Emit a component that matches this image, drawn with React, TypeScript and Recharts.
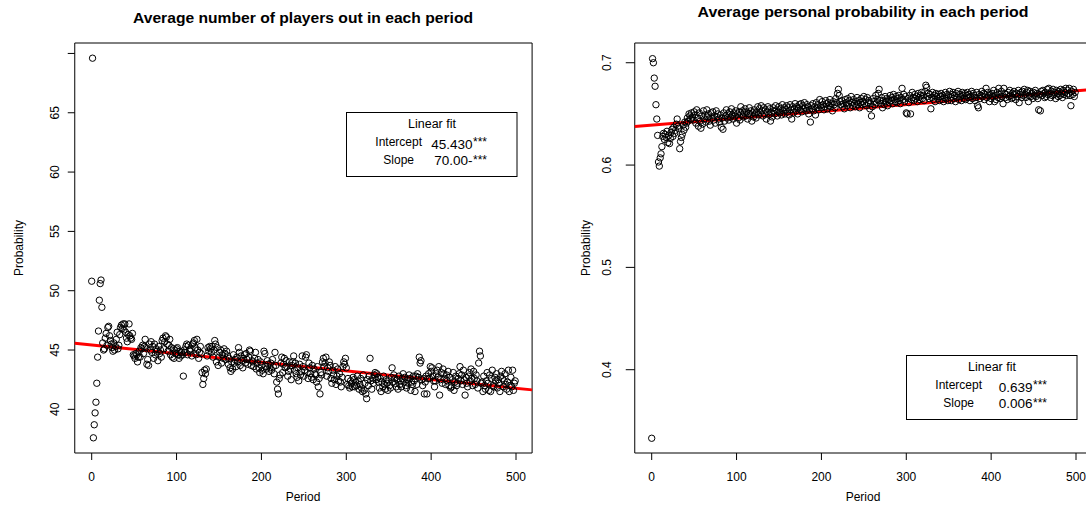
import React from 'react';
import { ScatterChart, Scatter, XAxis, YAxis, ReferenceLine, ReferenceArea } from 'recharts';

// ---------- DATA ----------
const playersOut: number[] = [
  50.8, 69.6, 37.6, 38.7, 39.7, 40.6, 42.2, 44.4, 46.6, 49.2,
  50.6, 50.9, 48.6, 45.6, 45.0, 45.1, 46.0, 46.4, 45.4, 46.9,
  47.0, 46.2, 45.8, 45.5, 45.2, 44.9, 45.6, 45.0, 45.3, 45.9,
  46.5, 45.1, 45.4, 46.3, 46.9, 47.1, 46.8, 47.2, 46.7, 47.2,
  46.5, 46.0, 45.7, 46.3, 47.2, 46.2, 46.0, 45.9, 46.4, 44.6,
  44.5, 44.3, 44.7, 44.6, 44.0, 44.4, 44.9, 44.4, 45.2, 45.1,
  45.4, 44.7, 45.3, 45.9, 45.2, 43.8, 44.2, 43.7, 45.5, 45.0,
  45.7, 44.8, 45.3, 44.3, 45.5, 44.6, 45.1, 44.9, 44.1, 45.3,
  44.7, 45.0, 44.4, 45.8, 46.0, 45.1, 45.7, 46.2, 46.1, 45.5,
  44.9, 45.4, 45.9, 44.6, 45.2, 44.4, 45.1, 44.3, 45.0, 44.7,
  45.1, 45.2, 44.6, 44.3, 44.9, 44.5, 44.8, 44.6, 42.8, 45.0,
  44.8, 45.3, 45.5, 44.6, 45.4, 45.0, 44.9, 45.1, 44.5, 45.5,
  45.6, 45.8, 45.2, 44.6, 45.9, 45.0, 44.3, 44.8, 45.3, 44.7,
  43.1, 42.1, 42.6, 43.3, 43.0, 43.4, 44.5, 45.2, 44.9, 45.3,
  45.1, 44.8, 45.3, 44.4, 45.0, 45.8, 45.5, 44.0, 45.2, 43.7,
  44.4, 44.8, 45.0, 43.9, 44.6, 44.3, 45.1, 44.7, 44.2, 44.9,
  44.5, 43.8, 44.3, 43.5, 43.2, 44.0, 43.4, 44.6, 43.9, 44.2,
  43.6, 44.4, 44.0, 45.2, 44.8, 43.7, 44.5, 44.1, 43.5, 44.3,
  44.6, 43.9, 44.7, 44.2, 43.8, 44.4, 45.0, 44.9, 43.7, 44.1,
  44.0, 43.6, 44.3, 44.8, 43.4, 43.9, 44.2, 43.5, 43.1, 44.0,
  43.7, 43.3, 43.0, 44.9, 44.7, 43.6, 43.4, 44.1, 43.8, 43.2,
  43.5, 43.9, 43.3, 44.2, 43.6, 43.0, 44.8, 43.7, 42.3, 41.7,
  41.3, 42.6, 42.9, 43.9, 44.4, 43.1, 43.8, 44.3, 43.5, 44.1,
  43.6, 42.8, 43.2, 44.0, 43.4, 42.5, 43.7, 44.0, 44.5, 43.3,
  43.9, 43.0, 42.7, 43.5, 42.4, 43.8, 42.9, 43.2, 44.5, 43.6,
  42.8, 43.3, 44.4, 44.6, 43.1, 42.6, 43.9, 43.5, 43.0, 42.7,
  43.7, 42.5, 43.4, 43.0, 42.9, 42.3, 43.6, 41.9, 42.6, 41.3,
  43.1, 42.9, 44.0, 44.3, 43.6, 43.9, 44.4, 42.8, 43.5, 43.2,
  44.0, 43.7, 42.6, 42.2, 43.3, 42.9, 42.5, 43.6, 42.1, 42.8,
  43.4, 42.4, 43.0, 42.3, 41.9, 42.7, 43.6, 44.0, 43.8, 44.3,
  43.5, 42.1, 42.6, 42.0, 41.8, 42.4, 42.2, 41.9, 42.7, 42.5,
  41.9, 42.3, 42.0, 42.8, 42.4, 41.7, 42.1, 42.6, 41.8, 41.5,
  42.9, 41.6, 42.2, 41.3, 40.9, 42.5, 42.0, 42.8, 44.3, 42.4,
  41.7, 42.6, 42.2, 42.9, 43.1, 42.5, 43.0, 42.7, 42.3, 41.8,
  42.6, 41.5, 42.3, 41.9, 42.8, 42.1, 41.7, 42.5, 42.2, 41.6,
  42.4, 42.0, 41.8, 42.7, 43.5, 42.3, 42.9, 42.6, 42.2, 41.9,
  42.5, 41.7, 42.8, 42.1, 42.4, 41.9, 42.6, 43.0, 42.3, 42.7,
  42.0, 41.8, 42.5, 42.2, 42.9, 42.6, 41.6, 42.3, 42.1, 42.8,
  42.4, 41.5, 42.8, 42.1, 43.0, 42.7, 44.4, 43.9, 44.1, 42.5,
  42.0, 42.6, 41.3, 42.3, 42.8, 41.3, 42.6, 43.0, 42.6, 43.6,
  43.2, 43.5, 42.8, 42.4, 41.9, 42.4, 43.0, 43.3, 42.7, 43.6,
  41.2, 42.5, 43.1, 42.2, 43.4, 43.0, 42.6, 42.1, 42.9, 42.4,
  43.2, 42.0, 42.7, 41.8, 41.9, 42.5, 43.1, 41.6, 42.3, 42.8,
  42.0, 42.2, 42.6, 43.0, 43.6, 42.4, 42.9, 42.1, 43.3, 42.5,
  41.2, 42.7, 42.2, 41.9, 42.8, 43.1, 42.4, 43.4, 42.6, 42.0,
  43.2, 42.6, 42.1, 42.9, 42.4, 41.8, 43.9, 44.9, 44.5, 42.2,
  42.3, 41.5, 42.8, 42.0, 41.7, 42.4, 43.1, 42.2, 41.6, 42.9,
  41.5, 42.6, 43.3, 42.0, 41.9, 42.7, 42.4, 43.0, 41.8, 42.5,
  42.2, 41.5, 42.8, 43.2, 42.6, 41.9, 42.4, 43.0, 42.1, 41.7,
  42.3, 43.3, 41.5, 42.0, 42.7, 41.9, 43.3, 41.6, 42.2, 42.4,
];

const personalProb: number[] = [
  0.333, 0.704, 0.700, 0.685, 0.677, 0.659, 0.645, 0.629, 0.603, 0.599,
  0.607, 0.611, 0.618, 0.628, 0.631, 0.625, 0.630, 0.627, 0.633, 0.622,
  0.629, 0.621, 0.626, 0.632, 0.635, 0.628, 0.637, 0.631, 0.634, 0.640,
  0.645, 0.638, 0.636, 0.616, 0.623, 0.627, 0.630, 0.639, 0.634, 0.642,
  0.637, 0.641, 0.646, 0.643, 0.650, 0.648, 0.645, 0.651, 0.647, 0.644,
  0.652, 0.649, 0.641, 0.654, 0.646, 0.638, 0.651, 0.643, 0.636, 0.648,
  0.640, 0.653, 0.645, 0.649, 0.642, 0.654, 0.647, 0.650, 0.643, 0.639,
  0.651, 0.646, 0.652, 0.644, 0.648, 0.641, 0.653, 0.647, 0.650, 0.645,
  0.642, 0.649, 0.637, 0.646, 0.635, 0.651, 0.643, 0.648, 0.654, 0.646,
  0.650, 0.644, 0.652, 0.647, 0.655, 0.649, 0.645, 0.651, 0.648, 0.653,
  0.641, 0.650, 0.646, 0.652, 0.644, 0.657, 0.649, 0.653, 0.647, 0.651,
  0.655, 0.648, 0.652, 0.645, 0.650, 0.656, 0.649, 0.653, 0.643, 0.651,
  0.647, 0.654, 0.650, 0.646, 0.652, 0.657, 0.649, 0.655, 0.651, 0.658,
  0.653, 0.648, 0.656, 0.650, 0.654, 0.645, 0.652, 0.657, 0.649, 0.655,
  0.643, 0.651, 0.647, 0.656, 0.653, 0.650, 0.658, 0.654, 0.648, 0.652,
  0.657, 0.651, 0.655, 0.649, 0.659, 0.653, 0.656, 0.650, 0.654, 0.658,
  0.652, 0.656, 0.649, 0.659, 0.654, 0.645, 0.657, 0.651, 0.655, 0.660,
  0.653, 0.657, 0.650, 0.656, 0.659, 0.654, 0.660, 0.652, 0.658, 0.655,
  0.661, 0.656, 0.653, 0.659, 0.657, 0.650, 0.654, 0.642, 0.658, 0.655,
  0.660, 0.653, 0.657, 0.649, 0.661, 0.656, 0.659, 0.654, 0.664, 0.658,
  0.656, 0.662, 0.659, 0.654, 0.657, 0.663, 0.660, 0.655, 0.661, 0.658,
  0.664, 0.657, 0.660, 0.653, 0.662, 0.659, 0.656, 0.665, 0.661, 0.670,
  0.674, 0.668, 0.662, 0.659, 0.663, 0.657, 0.660, 0.655, 0.664, 0.661,
  0.658, 0.665, 0.660, 0.663, 0.656, 0.667, 0.661, 0.658, 0.664, 0.660,
  0.657, 0.662, 0.666, 0.659, 0.663, 0.656, 0.661, 0.665, 0.659, 0.662,
  0.667, 0.660, 0.664, 0.658, 0.666, 0.661, 0.663, 0.655, 0.660, 0.648,
  0.657, 0.665, 0.662, 0.659, 0.668, 0.661, 0.664, 0.670, 0.674, 0.663,
  0.660, 0.666, 0.656, 0.663, 0.659, 0.667, 0.662, 0.665, 0.658, 0.664,
  0.661, 0.668, 0.663, 0.666, 0.660, 0.669, 0.664, 0.662, 0.667, 0.661,
  0.665, 0.668, 0.663, 0.660, 0.666, 0.675, 0.664, 0.669, 0.662, 0.667,
  0.651, 0.650, 0.665, 0.661, 0.668, 0.650, 0.664, 0.671, 0.666, 0.663,
  0.669, 0.665, 0.667, 0.662, 0.670, 0.666, 0.664, 0.668, 0.671, 0.665,
  0.668, 0.663, 0.672, 0.678, 0.676, 0.667, 0.670, 0.665, 0.669, 0.655,
  0.666, 0.671, 0.664, 0.668, 0.662, 0.670, 0.667, 0.665, 0.669, 0.663,
  0.667, 0.670, 0.664, 0.668, 0.662, 0.666, 0.671, 0.665, 0.669, 0.663,
  0.668, 0.672, 0.666, 0.663, 0.669, 0.671, 0.665, 0.668, 0.662, 0.670,
  0.666, 0.672, 0.664, 0.669, 0.667, 0.663, 0.671, 0.668, 0.665, 0.670,
  0.664, 0.668, 0.671, 0.666, 0.669, 0.663, 0.667, 0.672, 0.665, 0.670,
  0.668, 0.663, 0.666, 0.671, 0.658, 0.656, 0.669, 0.665, 0.668, 0.672,
  0.667, 0.670, 0.664, 0.669, 0.675, 0.666, 0.671, 0.668, 0.662, 0.669,
  0.665, 0.670, 0.667, 0.673, 0.662, 0.668, 0.664, 0.671, 0.666, 0.675,
  0.669, 0.665, 0.672, 0.667, 0.660, 0.675, 0.670, 0.666, 0.669, 0.664,
  0.671, 0.667, 0.673, 0.668, 0.665, 0.670, 0.666, 0.672, 0.669, 0.664,
  0.670, 0.667, 0.673, 0.661, 0.669, 0.671, 0.666, 0.672, 0.668, 0.674,
  0.669, 0.666, 0.671, 0.673, 0.662, 0.668, 0.672, 0.667, 0.670, 0.665,
  0.671, 0.668, 0.673, 0.667, 0.670, 0.665, 0.654, 0.669, 0.653, 0.672,
  0.668, 0.673, 0.670, 0.666, 0.671, 0.667, 0.674, 0.669, 0.675, 0.670,
  0.666, 0.672, 0.668, 0.674, 0.669, 0.671, 0.665, 0.673, 0.670, 0.667,
  0.672, 0.668, 0.674, 0.670, 0.666, 0.673, 0.669, 0.671, 0.675, 0.668,
  0.673, 0.670, 0.675, 0.668, 0.658, 0.672, 0.669, 0.674, 0.667, 0.671,
];

const xTicks = [0, 100, 200, 300, 400, 500];
const leftYTicks = [40, 45, 50, 55, 60, 65, 70];
const leftYTickLabels = ['40', '45', '50', '55', '60', '65', ''];
const rightYTicks = [0.4, 0.5, 0.6, 0.7];
const rightYTickLabels = ['0.4', '0.5', '0.6', '0.7'];

const leftFit = { intercept: 45.43, slope: -0.0073 };
const rightFit = { intercept: 0.639, slope: 0.000067 };

const leftTitle = 'Average number of players out in each period';
const rightTitle = 'Average personal probability in each period';
const leftLegendValues = ['45.430', '70.00-'];
const rightLegendValues = ['0.639', '0.006'];

// ---------- LAYOUT ----------
const FONT = '"Liberation Sans", Arial, Helvetica, sans-serif';
const X_DOMAIN: [number, number] = [-19.96, 518.96];
const LEFT_Y_DOMAIN: [number, number] = [36.32, 70.88];
const RIGHT_Y_DOMAIN: [number, number] = [0.3186, 0.7193];

const leftData = playersOut.map((v, i) => ({ period: i, value: v }));
const rightData = personalProb.map((v, i) => ({ period: i, value: v }));

const Ring = (props: any) => {
  const { cx, cy } = props;
  if (cx == null || cy == null) return <g />;
  return <circle cx={cx} cy={cy} r={3.2} fill="none" stroke="#000" strokeWidth={1} />;
};

const makeYTick = (ticks: number[], labels: string[], offset: number) => (props: any) => {
  const { x, y, payload } = props;
  const idx = ticks.findIndex((t) => Math.abs(t - payload.value) < 1e-9);
  const label = idx >= 0 ? labels[idx] : '';
  const tx = x - offset;
  return (
    <text x={tx} y={y} transform={`rotate(-90 ${tx} ${y})`} textAnchor="middle" fontSize={12} fontFamily={FONT} fill="#000">
      {label}
    </text>
  );
};

const XTick = (props: any) => {
  const { x, y, payload } = props;
  return (
    <text x={x} y={y + 19} textAnchor="middle" fontSize={12} fontFamily={FONT} fill="#000">
      {payload.value}
    </text>
  );
};

interface PanelProps {
  data: { period: number; value: number }[];
  yDomain: [number, number];
  yTicks: number[];
  yLabels: string[];
  yLabelOffset: number;
  yTickSize: number;
  fit: { intercept: number; slope: number };
  width: number;
  marginLeft: number;
  marginRight: number;
}

const Panel = ({ data, yDomain, yTicks, yLabels, yLabelOffset, yTickSize, fit, width, marginLeft, marginRight }: PanelProps) => {
  const f = (x: number) => fit.intercept + fit.slope * x;
  return (
    <ScatterChart
      width={width}
      height={507}
      margin={{ top: 43, right: marginRight, bottom: 24, left: marginLeft }}
    >
      <XAxis
        type="number"
        dataKey="period"
        domain={X_DOMAIN}
        ticks={xTicks}
        allowDataOverflow
        axisLine={false}
        tickLine={{ stroke: '#000' }}
        tickSize={7}
        height={30}
        tick={<XTick />}
        interval={0}
      />
      <YAxis
        type="number"
        dataKey="value"
        domain={yDomain}
        ticks={yTicks}
        allowDataOverflow
        axisLine={false}
        tickLine={{ stroke: '#000' }}
        tickSize={yTickSize}
        width={40}
        tick={makeYTick(yTicks, yLabels, yLabelOffset)}
        interval={0}
      />
      <ReferenceArea
        x1={X_DOMAIN[0]}
        x2={X_DOMAIN[1]}
        y1={yDomain[0]}
        y2={yDomain[1]}
        fill="none"
        fillOpacity={0}
        stroke="#000"
        strokeWidth={1}
        ifOverflow="visible"
      />
      <Scatter data={data} shape={<Ring />} isAnimationActive={false} />
      <ReferenceLine
        segment={[
          { x: X_DOMAIN[0], y: f(X_DOMAIN[0]) },
          { x: X_DOMAIN[1], y: f(X_DOMAIN[1]) },
        ]}
        stroke="#ff0000"
        strokeWidth={3}
        ifOverflow="visible"
      />
    </ScatterChart>
  );
};

const LegendBox = ({ x, y, values }: { x: number; y: number; values: string[] }) => (
  <g fontFamily={FONT} fill="#000">
    <rect x={x + 0.5} y={y + 0.5} width={170.5} height={64} fill="#fff" stroke="#000" strokeWidth={1} />
    <text x={x + 86} y={y + 16} textAnchor="middle" fontSize={12.5}>Linear fit</text>
    <text x={x + 52.7} y={y + 34} textAnchor="middle" fontSize={12}>Intercept</text>
    <text x={x + 52.7} y={y + 51.5} textAnchor="middle" fontSize={12}>Slope</text>
    <text x={x + 126.5} y={y + 37.3} textAnchor="end" fontSize={13.5}>{values[0]}</text>
    <text x={x + 127} y={y + 34} fontSize={12}>***</text>
    <text x={x + 126.5} y={y + 52.6} textAnchor="end" fontSize={13.5}>{values[1]}</text>
    <text x={x + 127} y={y + 52} fontSize={12}>***</text>
  </g>
);

const Overlay = () => (
  <svg width={1086} height={507} style={{ position: 'absolute', left: 0, top: 0, pointerEvents: 'none' }}>
    <text x={303} y={23} textAnchor="middle" fontSize={14.4} fontWeight="bold" fontFamily={FONT} textLength={340} lengthAdjust="spacingAndGlyphs">
      {leftTitle}
    </text>
    <text x={863} y={17} textAnchor="middle" fontSize={14.4} fontWeight="bold" fontFamily={FONT} textLength={331} lengthAdjust="spacingAndGlyphs">
      {rightTitle}
    </text>
    <text x={23} y={248} transform="rotate(-90 23 248)" textAnchor="middle" fontSize={12} fontFamily={FONT}>Probability</text>
    <text x={590} y={248} transform="rotate(-90 590 248)" textAnchor="middle" fontSize={12} fontFamily={FONT}>Probability</text>
    <text x={303} y={501} textAnchor="middle" fontSize={12} fontFamily={FONT}>Period</text>
    <text x={863} y={501} textAnchor="middle" fontSize={12} fontFamily={FONT}>Period</text>
    <LegendBox x={346} y={112} values={leftLegendValues} />
    <LegendBox x={906} y={355} values={rightLegendValues} />
  </svg>
);

export default function App() {
  return (
    <div style={{ position: 'absolute', left: 0, top: 0, width: 1086, height: 507, overflow: 'hidden', background: '#fff' }}>
      <div style={{ position: 'absolute', left: 0, top: 0 }}>
        <Panel
          data={leftData}
          yDomain={LEFT_Y_DOMAIN}
          yTicks={leftYTicks}
          yLabels={leftYTickLabels}
          yLabelOffset={7}
          yTickSize={7}
          fit={leftFit}
          width={560}
          marginLeft={34.76}
          marginRight={27.9}
        />
      </div>
      <div style={{ position: 'absolute', left: 580, top: 0 }}>
        <Panel
          data={rightData}
          yDomain={RIGHT_Y_DOMAIN}
          yTicks={rightYTicks}
          yLabels={rightYTickLabels}
          yLabelOffset={13}
          yTickSize={9}
          fit={rightFit}
          width={520}
          marginLeft={14.76}
          marginRight={7.9}
        />
      </div>
      <Overlay />
    </div>
  );
}
